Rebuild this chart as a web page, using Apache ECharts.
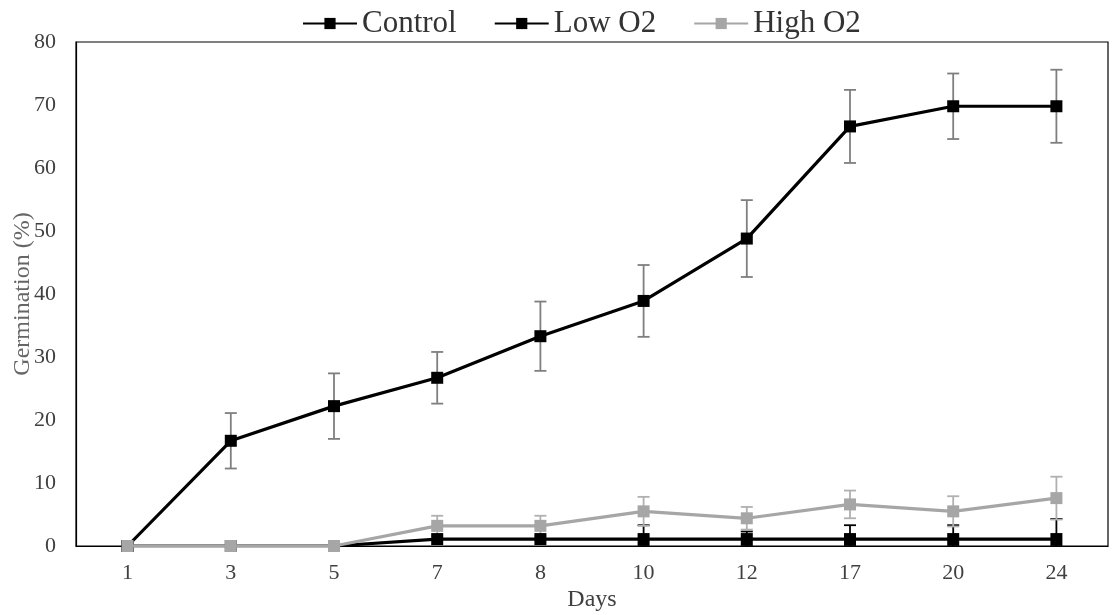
<!DOCTYPE html>
<html><head><meta charset="utf-8">
<script src="https://cdn.jsdelivr.net/npm/echarts@6/dist/echarts.min.js"></script>
<style>html,body{margin:0;padding:0;background:#fff}#c{width:1115px;height:615px}</style>
</head><body><div id="c"></div>
<script>
const days = ['1','3','5','7','8','10','12','17','20','24'];
const control = [0, 16.7, 22.2, 26.7, 33.3, 38.9, 48.8, 66.6, 69.8, 69.8];
const controlErr = [0, 4.4, 5.2, 4.1, 5.5, 5.7, 6.1, 5.8, 5.2, 5.8];
const lowO2 = [0, 0, 0, 1.1, 1.1, 1.1, 1.1, 1.1, 1.1, 1.1];
const lowO2Err = [0, 0, 0, 0, 0, 2.2, 1.2, 2.2, 2.2, 3.2];
const highO2 = [0, 0, 0, 3.2, 3.2, 5.5, 4.4, 6.6, 5.5, 7.6];
const highO2Err = [0, 0, 0, 1.6, 1.6, 2.3, 1.8, 2.2, 2.4, 3.4];
const yTicks = [0, 10, 20, 30, 40, 50, 60, 70, 80];

const font = 'Liberation Serif';
function errData(v, e) { return v.map((y, i) => [i, Math.max(0, y - e[i]), y + e[i]]); }
function errSeries(v, e, color, z) {
  return {
    type: 'custom', z: z, silent: true,
    data: errData(v, e).filter((d, i) => e[i] > 0),
    renderItem: function (params, api) {
      const x = api.value(0);
      const lo = api.coord([x, api.value(1)]);
      const hi = api.coord([x, api.value(2)]);
      const w = 6;
      const st = { stroke: color, lineWidth: 1.8 };
      return { type: 'group', children: [
        { type: 'line', shape: { x1: lo[0], y1: lo[1], x2: hi[0], y2: hi[1] }, style: st },
        { type: 'line', shape: { x1: hi[0] - w, y1: hi[1], x2: hi[0] + w, y2: hi[1] }, style: st },
        { type: 'line', shape: { x1: lo[0] - w, y1: lo[1], x2: lo[0] + w, y2: lo[1] }, style: st }
      ]};
    }
  };
}

const chart = echarts.init(document.getElementById('c'), null, { renderer: 'canvas' });
chart.setOption({
  animation: false,
  textStyle: { fontFamily: font },
  grid: { left: 76, right: 7, top: 42, bottom: 69, containLabel: false, outerBoundsMode: 'none',
    show: true, borderColor: '#000', borderWidth: 1.2, backgroundColor: 'transparent' },
  legend: {
    top: 3, left: 297, itemGap: 37, itemWidth: 54, itemHeight: 14,
    textStyle: { fontFamily: font, fontSize: 31, color: '#333' },
    data: ['Control', 'Low O2', 'High O2']
  },
  xAxis: {
    type: 'category', data: days, boundaryGap: true,
    axisLine: { lineStyle: { color: '#000', width: 1.2 } },
    axisTick: { show: false },
    axisLabel: { fontFamily: font, fontSize: 22, color: '#404040', margin: 16 },
    name: 'Days', nameLocation: 'middle', nameGap: 42, nameMoveOverlap: false,
    nameTextStyle: { fontFamily: font, fontSize: 24, color: '#404040' }
  },
  yAxis: {
    type: 'value', min: 0, max: 80, interval: 10,
    axisLine: { show: true, lineStyle: { color: '#000', width: 1.2 } },
    axisTick: { show: false },
    splitLine: { show: false },
    axisLabel: { fontFamily: font, fontSize: 22, color: '#404040', margin: 20,
      formatter: v => yTicks.includes(v) ? String(v) : '' },
    name: 'Germination (%)', nameLocation: 'middle', nameGap: 41, nameMoveOverlap: false,
    nameTextStyle: { fontFamily: font, fontSize: 24, color: '#666' }
  },
  series: [
    errSeries(control, controlErr, '#7f7f7f', 1),
    errSeries(lowO2, lowO2Err, '#000', 1),
    errSeries(highO2, highO2Err, '#b0b0b0', 1),
    { name: 'Control', type: 'line', data: control, z: 3,
      symbol: 'rect', symbolSize: 12, itemStyle: { color: '#000' },
      lineStyle: { color: '#000', width: 3.2 } },
    { name: 'Low O2', type: 'line', data: lowO2, z: 4,
      symbol: 'rect', symbolSize: 12, itemStyle: { color: '#000' },
      lineStyle: { color: '#000', width: 3.2 } },
    { name: 'High O2', type: 'line', data: highO2, z: 5,
      symbol: 'rect', symbolSize: 12, itemStyle: { color: '#a6a6a6' },
      lineStyle: { color: '#a6a6a6', width: 3.2 } }
  ]
});
</script></body></html>
